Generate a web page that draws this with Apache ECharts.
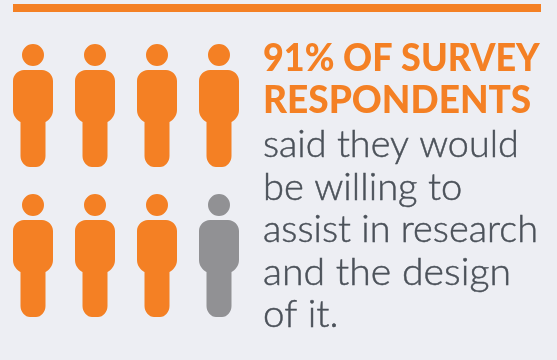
<!DOCTYPE html>
<html>
<head>
<meta charset="utf-8">
<style>html,body{margin:0;padding:0;background:#edeef3}#c{width:557px;height:360px}</style>
<script src="https://cdn.jsdelivr.net/npm/echarts@6/dist/echarts.min.js"></script>
</head>
<body>
<div id="c"></div>
<script>
// Icon array: eight people, one of them greyed out
const columns = ['a', 'b', 'c', 'd'];
const rows = ['lower', 'upper'];
const willing = [[0, 1], [1, 1], [2, 1], [3, 1], [0, 0], [1, 0], [2, 0]];
const notWilling = [[3, 0]];

const headline = ['91% OF SURVEY', 'RESPONDENTS'];
const body = ['said they would', 'be willing to', 'assist in research', 'and the design', 'of it.'];
// Horizontal fit per line of copy
const headlineFit = [0.972, 1];
const bodyFit = [1.022, 1.03, 1.023, 1.06, 1.04];

const ORANGE = '#f48024';
const GREY = '#919194';
const INK = '#4b5159';
const PAPER = '#edeef3';

// Person glyph, 40 wide by 123 tall
const person = 'path://M20 0A11 11 0 1 1 20 22A11 11 0 1 1 20 0Z' +
  'M11 26H29C35 26 40 31 40 37V66C40 72 36 76 32.5 78V112C32.5 118 28 123 23 123H17C12 123 7.5 118 7.5 112V78C4 76 0 72 0 66V37C0 31 5 26 11 26Z';

const glyphSeries = (name, data, color) => ({
  name, type: 'scatter', data, symbol: person, symbolSize: [40, 123],
  symbolKeepAspect: false, itemStyle: { color, opacity: 1 }, silent: true
});

const textLine = (text, y, weight, color, size, fit, stroke) => ({
  type: 'text', x: 263, y, scaleX: fit,
  style: { text, fill: color, font: `${weight} ${size}px Lato`, stroke: stroke ? color : null, lineWidth: stroke }
});

const chart = echarts.init(document.getElementById('c'), null, { renderer: 'canvas' });
chart.setOption({
  animation: false,
  backgroundColor: PAPER,
  grid: { left: 2, top: 30.5, width: 248, height: 300 },
  xAxis: { type: 'category', data: columns, show: false },
  yAxis: { type: 'category', data: rows, show: false },
  series: [glyphSeries('Willing', willing, ORANGE), glyphSeries('Not willing', notWilling, GREY)],
  graphic: [
    { type: 'rect', shape: { x: 13, y: 4, width: 528, height: 8 }, style: { fill: ORANGE } },
    ...headline.map((t, i) => textLine(t, 41 + i * 42, 900, ORANGE, 37, headlineFit[i], 0)),
    ...body.map((t, i) => textLine(t, 127 + i * 42.5, 300, INK, 37, bodyFit[i], 0.45))
  ]
});
</script>
</body>
</html>
